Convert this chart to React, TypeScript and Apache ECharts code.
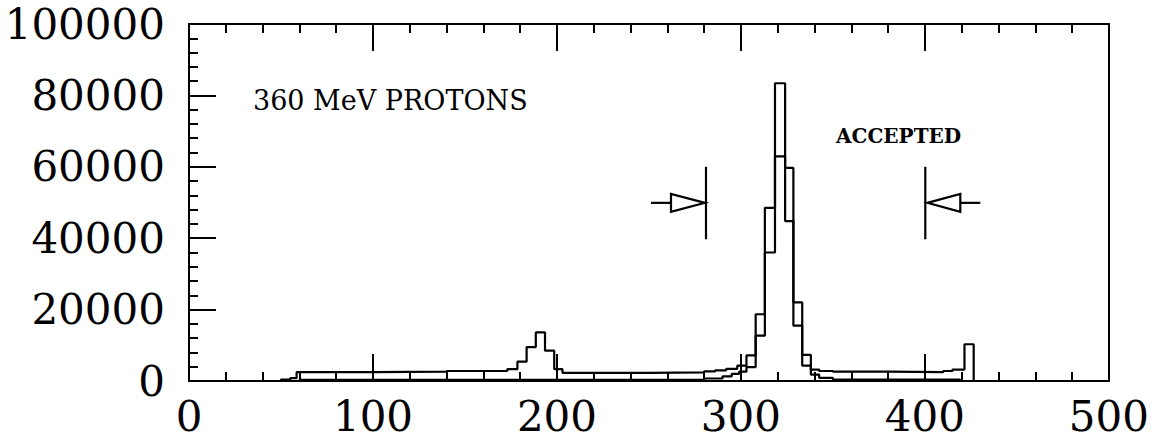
import React, { useEffect, useRef } from "react";
import * as echarts from "echarts";

// Histogram (all events): left bin edges and counts
const outerEdges = [0, 50, 55, 58.5, 100, 140, 173, 178.5, 183.5, 188.5, 193.5, 198.5, 203, 250, 280, 286, 292, 298, 303, 308, 313, 318.5, 324, 328.5, 333.3, 338, 342.5, 350, 380, 410, 415, 421.5, 426.5];
const outerCounts = [0, 400, 800, 2500, 2600, 2800, 3300, 5400, 9500, 13600, 8500, 3300, 2300, 2400, 2700, 3000, 3400, 4300, 7200, 18700, 48500, 83400, 59700, 22000, 7300, 3200, 2800, 2600, 2500, 2800, 3200, 10300, 0];

// Second histogram (inner)
const innerEdges = [0, 60, 280, 290, 295, 299, 303, 308, 313, 318.5, 324, 328.5, 333.3, 338, 342.5, 350, 419];
const innerCounts = [0, 300, 700, 1300, 2000, 2600, 3900, 12700, 36000, 62900, 44800, 15500, 4300, 1800, 900, 400, 0];

// Acceptance window markers
const arrowX = [281, 400.2];
const arrowY = [49900, 49900];
const arrowDir = [1, -1];
const arrowLow = [39700, 39700];
const arrowHigh = [60000, 60000];

const xTickLabels = ["0", "100", "200", "300", "400", "500"];
const yTickLabels = ["0", "20000", "40000", "60000", "80000", "100000"];
const yMax = 100000;

export default function App() {
  const ref = useRef<HTMLDivElement>(null);
  useEffect(() => {
    if (!ref.current) return;
    const chart = echarts.init(ref.current, null, { renderer: "svg" });
    const black = "#000";
    const labelFont = { fontFamily: "DejaVu Serif", fontSize: 42, color: black };
    const tick = { show: true, inside: true, length: 27, lineStyle: { color: black, width: 2 } };
    const minor = { show: true, splitNumber: 5, length: 9, lineStyle: { color: black, width: 2 } };
    chart.setOption({
      animation: false,
      backgroundColor: "#fff",
      grid: { left: 189, right: 43, top: 24, bottom: 62 },
      xAxis: [
        {
          type: "value", min: 0, max: 500, interval: 100, position: "bottom",
          axisLine: { show: true, onZero: false, lineStyle: { color: black, width: 2 } },
          axisTick: tick, minorTick: minor,
          splitLine: { show: false },
          axisLabel: { ...labelFont, margin: 14, formatter: (v: number) => xTickLabels[Math.round(v / 100)] ?? String(v) },
        },
        {
          type: "value", min: 0, max: 500, interval: 100, position: "top",
          axisLine: { show: true, onZero: false, lineStyle: { color: black, width: 2 } },
          axisTick: tick, minorTick: minor,
          splitLine: { show: false }, axisLabel: { show: false },
        },
      ],
      yAxis: [
        {
          type: "value", min: 0, max: yMax, interval: 20000, position: "left",
          axisLine: { show: true, onZero: false, lineStyle: { color: black, width: 2 } },
          axisTick: tick, minorTick: minor,
          splitLine: { show: false },
          axisLabel: { ...labelFont, margin: 24, formatter: (v: number) => yTickLabels[Math.round(v / 20000)] ?? String(v) },
        },
        {
          type: "value", min: 0, max: yMax, interval: 20000, position: "right",
          axisLine: { show: true, onZero: false, lineStyle: { color: black, width: 2 } },
          axisTick: { show: false }, splitLine: { show: false }, axisLabel: { show: false },
        },
      ],
      graphic: [
        { type: "text", left: 253, top: 87, style: { text: "360 MeV PROTONS", font: '27px "DejaVu Serif"', fill: black } },
        { type: "text", left: 836, top: 126, style: { text: "ACCEPTED", font: 'bold 20px "DejaVu Serif"', fill: black } },
      ],
      series: [
        {
          type: "line", step: "end", symbol: "none", xAxisIndex: 0, yAxisIndex: 0,
          lineStyle: { color: black, width: 2.2 },
          data: outerEdges.map((x, i) => [x, outerCounts[i]]),
        },
        {
          type: "line", step: "end", symbol: "none", xAxisIndex: 0, yAxisIndex: 0,
          lineStyle: { color: black, width: 2.2 },
          data: innerEdges.map((x, i) => [x, innerCounts[i]]),
        },
        {
          type: "custom", xAxisIndex: 0, yAxisIndex: 0, clip: false,
          data: arrowX.map((x, i) => [x, arrowY[i], arrowDir[i], arrowLow[i], arrowHigh[i]]),
          encode: { x: 0, y: 1 },
          renderItem: (params: any, api: any) => {
            const x = api.value(0), y = api.value(1), dir = api.value(2);
            const p = api.coord([x, y]);
            const lo = api.coord([x, api.value(3)]);
            const hi = api.coord([x, api.value(4)]);
            const apexX = p[0] + (dir > 0 ? -1 : 2);
            const baseX = p[0] - dir * 35;
            const tailX = p[0] - dir * 55;
            const st = { stroke: black, lineWidth: 2.2, fill: "none" };
            return {
              type: "group",
              children: [
                { type: "line", shape: { x1: p[0], y1: hi[1], x2: p[0], y2: lo[1] }, style: st },
                { type: "polygon", shape: { points: [[apexX, p[1]], [baseX, p[1] - 9], [baseX, p[1] + 9]] }, style: st },
                { type: "line", shape: { x1: baseX, y1: p[1], x2: tailX, y2: p[1] }, style: st },
              ],
            };
          },
        },
      ],
    });
    return () => chart.dispose();
  }, []);
  return <div ref={ref} style={{ position: "absolute", left: 0, top: 0, width: 1152, height: 443 }} />;
}
